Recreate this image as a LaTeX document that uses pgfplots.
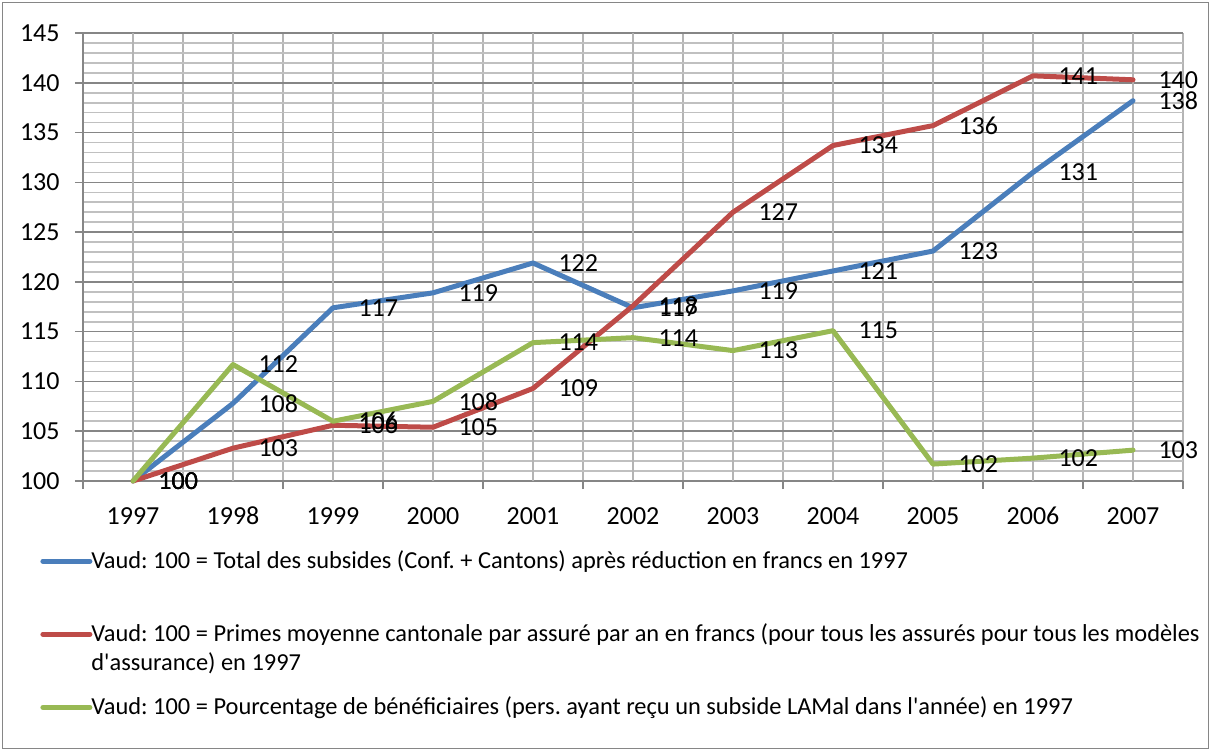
\documentclass[border=0pt]{standalone}
\usepackage{fontspec}
\setmainfont{Carlito}
\usepackage{pgfplots}
\pgfplotsset{compat=1.18}
\definecolor{sblue}{HTML}{4A7EBB}
\definecolor{sred}{HTML}{BE4B48}
\definecolor{sgreen}{HTML}{98B954}
\definecolor{gmaj}{HTML}{868686}
\definecolor{gmin}{HTML}{C0C0C0}
\definecolor{gvert}{HTML}{B4B4B4}
\begin{document}
\frenchspacing
\fontsize{12}{14.5}\selectfont
\begin{tikzpicture}
\useasboundingbox (0,0) rectangle (605.5pt,-375.5pt);
\draw[color=gmaj, line width=0.7pt] (1.3pt,-1.3pt) rectangle (604.2pt,-374.2pt);
\begin{axis}[
  at={(41.5pt,-240.5pt)}, anchor=south west,
  scale only axis, width=550pt, height=224pt,
  clip=false,
  xmin=-0.5, xmax=10.5, ymin=100, ymax=145,
  axis x line*=bottom, axis y line*=left,
  axis line style={color=gmaj, line width=0.8pt},
  /pgf/number format/assume math mode=true,
  font=\fontsize{13}{15}\selectfont,
  tick align=outside,
  major tick length=4pt, minor tick length=0pt,
  tick style={color=gmaj, line width=0.8pt},
  xtick={-0.5,0.5,...,10.5}, xticklabels={},
  extra x ticks={0,1,...,10},
  extra x tick labels={1997,1998,1999,2000,2001,2002,2003,2004,2005,2006,2007},
  extra x tick style={grid=major, major tick length=0pt,
     xticklabel style={inner sep=0pt, anchor=north, text height=8.2pt, text depth=0pt, yshift=-13.5pt}},
  ytick={100,105,...,145},
  minor y tick num=4,
  yticklabel style={inner sep=0pt, anchor=east, xshift=-7.5pt},
  xmajorgrids, ymajorgrids, yminorgrids,
  major x grid style={color=gvert, line width=0.8pt},
  major y grid style={color=gmaj, line width=0.8pt},
  minor y grid style={color=gmin, line width=0.8pt},
  every axis plot/.append style={line width=2.5pt, line join=round, line cap=round},
  nodes near coords={\pgfmathprintnumber[fixed,precision=0]{\pgfplotspointmeta}},
  every node near coord/.append style={anchor=west, inner sep=0pt, xshift=11.5pt,
     text=black, font=\fontsize{13}{15}\selectfont},
  legend image code/.code={\draw[#1, line cap=round] (0pt,0pt) -- (23.5pt,0pt);},
  legend style={at={(-0.0391,-0.1450)}, anchor=north west, draw=none, fill=none,
     inner sep=0pt, row sep=21.75pt, column sep=-2.5pt,
     font=\fontsize{12.2}{14.5}\selectfont,
     cells={anchor=west, inner sep=0pt, text height=9pt, text depth=3pt}},
  legend cell align=left,
]
\addplot[color=sblue] coordinates {(0,100) (1,107.8) (2,117.4) (3,118.9) (4,121.9) (5,117.4) (6,119.1) (7,121.1) (8,123.1) (9,131.0) (10,138.2)};
\addlegendentry{Vaud: 100 = Total des subsides (Conf. + Cantons) après réduction en francs en 1997}
\addplot[color=sred] coordinates {(0,100) (1,103.3) (2,105.6) (3,105.4) (4,109.3) (5,117.6) (6,127.0) (7,133.7) (8,135.7) (9,140.7) (10,140.3)};
\addlegendentry{\makebox[0pt][l]{\smash{\raisebox{-14.5pt}{d\textquotesingle assurance) en 1997}}}Vaud: 100 = Primes moyenne cantonale par assuré par an en francs (pour tous les assurés pour tous les modèles}
\addplot[color=sgreen] coordinates {(0,100) (1,111.7) (2,106.0) (3,108.0) (4,113.9) (5,114.4) (6,113.1) (7,115.1) (8,101.7) (9,102.3) (10,103.1)};
\addlegendentry{Vaud: 100 = Pourcentage de bénéficiaires (pers. ayant reçu un subside LAMal dans l\textquotesingle année) en 1997}
\end{axis}
\end{tikzpicture}
\end{document}
